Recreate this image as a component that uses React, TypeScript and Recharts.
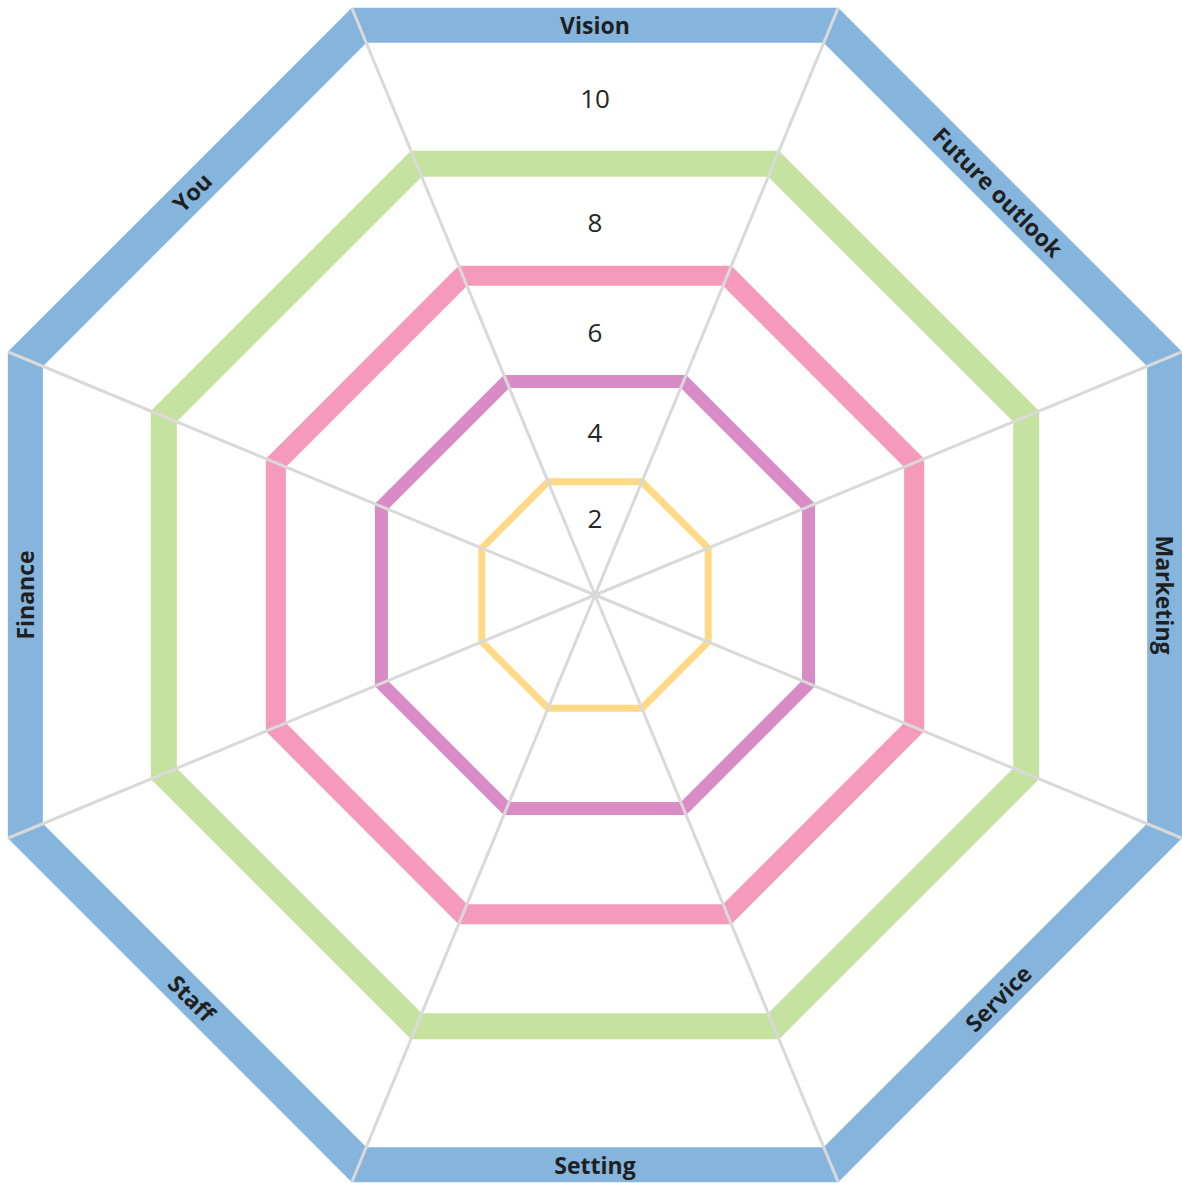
import { RadarChart, Radar, PolarGrid, PolarAngleAxis, PolarRadiusAxis } from 'recharts';

// Edge names, clockwise from the top edge
const CATEGORIES = ['Vision', 'Future outlook', 'Marketing', 'Service', 'Setting', 'Staff', 'Finance', 'You'];

// Rings, inner to outer: level shown in the zone, radius (axis units 0-10)
const RING_LEVELS = ['2', '4', '6', '8', '10'];
const RING_VALUES = [1.93, 3.64, 5.44, 7.35, 9.71];
// where each level number sits on the vertical axis (axis units)
const LEVEL_LABEL_POS = [1.21, 2.57, 4.14, 5.87, 7.83];

const RING_STYLES = [
  { color: '#ffd985', width: 7 },
  { color: '#d98bc6', width: 13 },
  { color: '#f59abb', width: 20 },
  { color: '#c6e2a1', width: 26 },
  { color: '#85b5dc', width: 35 },
];

const W = 1182;
const H = 1183;
const CX = 595;
const CY = 595;
const OUTER = 635;
const START_ANGLE = 112.5;
const NAME_RADIUS = 570;

const data = CATEGORIES.map((name) => {
  const row: { [k: string]: number | string } = { name };
  RING_VALUES.forEach((v, i) => {
    row[`ring${i}`] = v;
  });
  return row;
});

const CategoryTick = (props: any) => {
  const { payload, index } = props;
  const vertex = typeof payload?.coordinate === 'number' ? payload.coordinate : START_ANGLE - 45 * index;
  // label goes on the middle of the edge that follows this vertex
  const phi = vertex - 22.5;
  const rad = (phi * Math.PI) / 180;
  const x = CX + NAME_RADIUS * Math.cos(rad);
  const y = CY - NAME_RADIUS * Math.sin(rad);
  let rot = (((90 - phi) % 360) + 540) % 360 - 180;
  if (rot > 90) rot -= 180;
  if (rot < -90) rot += 180;
  return (
    <text
      x={x}
      y={y}
      transform={`rotate(${rot} ${x} ${y})`}
      textAnchor="middle"
      dominantBaseline="central"
      fontFamily="'Open Sans', sans-serif"
      fontWeight={700}
      fontSize={23}
      fill="#1f1f1f"
    >
      {payload.value}
    </text>
  );
};

const LevelTick = (props: any) => {
  const { x, y, index } = props;
  return (
    <text
      x={x}
      y={y}
      textAnchor="middle"
      dominantBaseline="central"
      fontFamily="'Open Sans', sans-serif"
      fontSize={26}
      fill="#262626"
    >
      {RING_LEVELS[index]}
    </text>
  );
};

const chartProps = {
  width: W,
  height: H,
  data,
  cx: CX,
  cy: CY,
  outerRadius: OUTER,
  startAngle: START_ANGLE,
  endAngle: START_ANGLE - 360,
  margin: { top: 0, right: 0, bottom: 0, left: 0 },
};

export default function App() {
  return (
    <div style={{ position: 'absolute', left: 0, top: 0, width: W, height: H, background: '#fff' }}>
      <RadarChart {...chartProps}>
        <PolarAngleAxis dataKey="name" axisLine={false} tickLine={false} tick={<CategoryTick />} />
        <PolarRadiusAxis
          type="number"
          domain={[0, 10]}
          angle={90}
          ticks={LEVEL_LABEL_POS as any}
          axisLine={false}
          tickLine={false}
          tick={<LevelTick />}
        />
        {RING_STYLES.map((s, i) => (
          <Radar
            key={i}
            dataKey={`ring${i}`}
            stroke={s.color}
            strokeWidth={s.width}
            fill="none"
            fillOpacity={0}
            dot={false}
            isAnimationActive={false}
          />
        ))}
      </RadarChart>
      {/* spokes sit on top of the rings, so they get their own layer */}
      <div style={{ position: 'absolute', left: 0, top: 0, pointerEvents: 'none' }}>
        <RadarChart {...chartProps}>
          <PolarAngleAxis dataKey="name" axisLine={false} tickLine={false} tick={false} />
          <PolarRadiusAxis type="number" domain={[0, 10]} axisLine={false} tick={false} />
          <PolarGrid gridType="polygon" polarRadius={[]} stroke="#d9d9d9" strokeWidth={3} />
        </RadarChart>
      </div>
    </div>
  );
}
